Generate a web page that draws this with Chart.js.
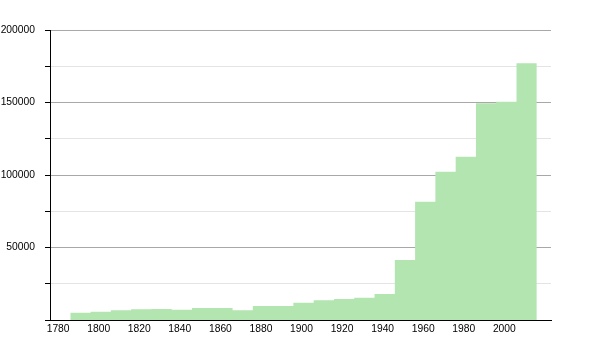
<!DOCTYPE html>
<html>
<head>
<meta charset="utf-8">
<script src="https://cdn.jsdelivr.net/npm/chart.js@4.4.1/dist/chart.umd.min.js"></script>
<style>
    html, body { margin: 0; padding: 0; background: #fff; }
</style>
</head>
<body>
<canvas id="popChart" width="600" height="350"></canvas>
<script>
// start year of each 10-year bar
const binStarts = [1786, 1796, 1806, 1816, 1826, 1836, 1846, 1856, 1866, 1876, 1886, 1896,
    1906, 1916, 1926, 1936, 1946, 1956, 1966, 1976, 1986, 1996, 2006];
const binEnd = 2016;
const population = [5000, 5700, 6700, 7400, 7600, 7000, 8300, 8300, 6700, 9700, 9700, 11900,
    13600, 14500, 15400, 17900, 41400, 81600, 102300, 112600, 149400, 150500, 177000];
const xTicks = [1780, 1800, 1820, 1840, 1860, 1880, 1900, 1920, 1940, 1960, 1980, 2000];
const yTicks = [0, 25000, 50000, 75000, 100000, 125000, 150000, 175000, 200000];

(() => {
    const points = binStarts.map((year, i) => ({ x: year, y: population[i] }));
    points.push({ x: binEnd, y: population[population.length - 1] });

    const font = { family: '"Liberation Sans", Arial, sans-serif', size: 10.3 };

    new Chart(document.getElementById('popChart'), {
        type: 'line',
        data: {
            datasets: [{
                data: points,
                stepped: true,
                fill: 'origin',
                backgroundColor: '#b2e5b0',
                borderColor: 'rgba(0,0,0,0)',
                borderWidth: 0,
                pointRadius: 0,
                tension: 0
            }]
        },
        options: {
            responsive: false,
            animation: false,
            layout: { padding: { top: 30, right: 49, left: 0, bottom: 0 } },
            plugins: {
                legend: { display: false },
                tooltip: { enabled: false }
            },
            scales: {
                x: {
                    type: 'linear',
                    min: 1776,
                    max: 2023,
                    afterBuildTicks(scale) {
                        scale.ticks = xTicks.map((v) => ({ value: v }));
                    },
                    afterFit(scale) {
                        scale.height = 30;
                    },
                    grid: { display: false, drawTicks: false },
                    border: { display: true, color: '#000', width: 1 },
                    ticks: {
                        color: '#000',
                        font,
                        padding: 3,
                        maxRotation: 0,
                        autoSkip: false,
                        callback: (value) => String(value)
                    }
                },
                y: {
                    min: 0,
                    max: 200000,
                    afterBuildTicks(scale) {
                        scale.ticks = yTicks.map((v) => ({ value: v }));
                    },
                    afterFit(scale) {
                        scale.width = 50;
                    },
                    grid: {
                        color: (ctx) => (ctx.tick && ctx.tick.value % 50000 === 0 ? '#a8a8a8' : '#e4e4e4'),
                        tickColor: '#000',
                        tickLength: 5,
                        drawTicks: true
                    },
                    border: { display: true, color: '#000', width: 1 },
                    ticks: {
                        color: '#000',
                        font,
                        padding: 10,
                        callback: (value) => (value !== 0 && value % 50000 === 0 ? String(value) : '')
                    }
                }
            }
        }
    });
})();
</script>
</body>
</html>
